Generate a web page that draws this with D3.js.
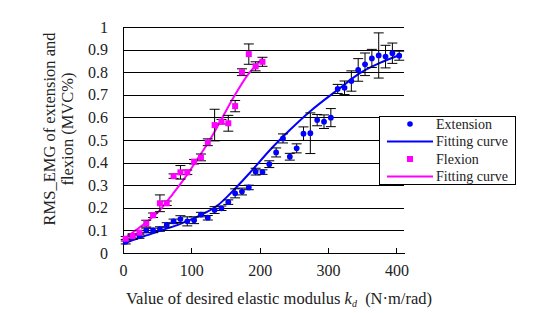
<!DOCTYPE html>
<html lang="en">
<head>
    <meta charset="UTF-8">
    <title>RMS EMG vs desired elastic modulus</title>
    <script src="https://d3js.org/d3.v7.min.js"></script>
    <style>
        body {
            margin: 0;
            background: #fff;
        }
        svg text {
            font-family: "Liberation Serif", "DejaVu Serif", serif;
        }
        .axis text {
            font-size: 16px;
            fill: #222;
        }
        .axis path,
        .axis line {
            stroke: #000;
            shape-rendering: crispEdges;
        }
        .grid line {
            stroke: #000;
            stroke-width: 1px;
            shape-rendering: crispEdges;
        }
        .err line {
            stroke: #000;
            stroke-width: 1px;
        }
        .legend text {
            font-size: 14px;
            fill: #222;
        }
        .title {
            font-size: 16.5px;
            fill: #222;
        }
    </style>
</head>
<body>
    <svg width="556" height="313"></svg>
    <script>
        // values
        var extX   = [4, 14, 24, 34, 44, 54, 64, 74, 84, 94, 104, 114, 124, 134, 144, 154, 164, 174, 184, 194,
                      204, 214, 224, 234, 244, 254, 264, 274, 284, 294, 304, 314, 324, 334, 344, 354, 364, 374, 384, 394, 404];
        var extY   = [0.05, 0.07, 0.075, 0.10, 0.10, 0.106, 0.124, 0.14, 0.15, 0.14, 0.145, 0.17, 0.156, 0.19, 0.198, 0.225, 0.264, 0.272, 0.29, 0.36,
                      0.358, 0.393, 0.445, 0.507, 0.426, 0.463, 0.528, 0.53, 0.588, 0.581, 0.599, 0.726, 0.731, 0.761, 0.81, 0.835, 0.861, 0.874, 0.869, 0.884, 0.873];
        var extErr = [0.01, 0.01, 0.01, 0.01, 0.01, 0.01, 0.01, 0.01, 0.015, 0.02, 0.015, 0.01, 0.01, 0.015, 0.01, 0.01, 0.02, 0.015, 0.01, 0.015,
                      0.01, 0.015, 0.02, 0.02, 0.015, 0.02, 0.03, 0.09, 0.025, 0.03, 0.04, 0.02, 0.03, 0.045, 0.05, 0.05, 0.04, 0.1, 0.05, 0.045, 0.02];

        var flxX   = [4, 14, 24, 34, 44, 54, 64, 74, 84, 94, 104, 114, 124, 134, 144, 154, 164, 174, 184, 194, 204];
        var flxY   = [0.063, 0.075, 0.09, 0.13, 0.167, 0.22, 0.22, 0.34, 0.357, 0.357, 0.404, 0.423, 0.49, 0.566, 0.581, 0.574, 0.65, 0.80, 0.88, 0.826, 0.846];
        var flxErr = [0.01, 0.01, 0.01, 0.015, 0.01, 0.037, 0.01, 0.01, 0.03, 0.01, 0.01, 0.015, 0.015, 0.07, 0.01, 0.035, 0.025, 0.015, 0.045, 0.02, 0.02];

        // fitted trend lines
        var extFitX = [0, 25, 54, 83, 112, 139, 156, 185, 215, 244, 273, 317, 346, 375, 405];
        var extFitY = [0.04, 0.068, 0.098, 0.128, 0.165, 0.212, 0.26, 0.353, 0.456, 0.544, 0.625, 0.729, 0.795, 0.84, 0.876];
        var flxFitX = [0, 25, 54, 73, 90, 112, 125, 140, 161, 183, 204];
        var flxFitY = [0.06, 0.115, 0.19, 0.262, 0.33, 0.43, 0.49, 0.57, 0.685, 0.79, 0.86];

        var xTicks = [0, 100, 200, 300, 400];
        var yTicks = [0, 0.1, 0.2, 0.3, 0.4, 0.5, 0.6, 0.7, 0.8, 0.9, 1];
        var yLabels = ["0", "0.1", "0.2", "0.3", "0.4", "0.5", "0.6", "0.7", "0.8", "0.9", "1"];

        var legendItems = [
            {label: "Extension", kind: "dot", color: "#0000ff"},
            {label: "Fitting curve", kind: "line", color: "#0000ff"},
            {label: "Flexion", kind: "square", color: "#ff00ff"},
            {label: "Fitting curve", kind: "line", color: "#ff00ff"}
        ];

        var plot = {left: 123, right: 404, top: 27, bottom: 253};

        var x = d3.scaleLinear().domain([0, 411]).range([plot.left, plot.right]),
            y = d3.scaleLinear().domain([0, 1]).range([plot.bottom, plot.top]);

        var svg = d3.select("svg");

        // horizontal gridlines
        svg.append("g")
            .attr("class", "grid")
          .selectAll("line")
            .data(yTicks.slice(1))
          .enter().append("line")
            .attr("x1", plot.left)
            .attr("x2", plot.right)
            .attr("y1", function(d) { return Math.round(y(d)) + 0.5; })
            .attr("y2", function(d) { return Math.round(y(d)) + 0.5; });

        // x axis, ticks pointing up into the plot
        svg.append("g")
            .attr("class", "axis")
            .attr("transform", "translate(0," + plot.bottom + ")")
            .call(d3.axisBottom(x).tickValues(xTicks).tickSize(-5).tickSizeOuter(0).tickPadding(12))
            .attr("font-family", null);

        // y axis
        svg.append("g")
            .attr("class", "axis")
            .attr("transform", "translate(" + plot.left + ",0)")
            .call(d3.axisLeft(y).tickValues(yTicks).tickSize(0).tickSizeOuter(0).tickPadding(15)
                .tickFormat(function(d, i) { return yLabels[i]; }))
            .attr("font-family", null);

        // fitting curves
        var line = d3.line()
            .x(function(d) { return x(d[0]); })
            .y(function(d) { return y(d[1]); })
            .curve(d3.curveMonotoneX);

        svg.append("path")
            .datum(d3.zip(extFitX, extFitY))
            .attr("d", line)
            .attr("fill", "none")
            .attr("stroke", "#0000ff")
            .attr("stroke-width", 2);

        svg.append("path")
            .datum(d3.zip(flxFitX, flxFitY))
            .attr("d", line)
            .attr("fill", "none")
            .attr("stroke", "#ff00ff")
            .attr("stroke-width", 2);

        // error bars
        function errorBars(xs, ys, es) {
            var g = svg.append("g").attr("class", "err")
              .selectAll("g")
                .data(d3.zip(xs, ys, es))
              .enter().append("g");
            g.append("line")
                .attr("x1", function(d) { return x(d[0]); })
                .attr("x2", function(d) { return x(d[0]); })
                .attr("y1", function(d) { return y(d[1] - d[2]); })
                .attr("y2", function(d) { return y(d[1] + d[2]); });
            [-1, 1].forEach(function(s) {
                g.append("line")
                    .attr("x1", function(d) { return x(d[0]) - 5; })
                    .attr("x2", function(d) { return x(d[0]) + 5; })
                    .attr("y1", function(d) { return y(d[1] + s * d[2]); })
                    .attr("y2", function(d) { return y(d[1] + s * d[2]); });
            });
        }
        errorBars(extX, extY, extErr);
        errorBars(flxX, flxY, flxErr);

        // points
        svg.append("g")
          .selectAll("path")
            .data(d3.zip(extX, extY))
          .enter().append("path")
            .attr("d", d3.symbol(d3.symbolCircle, 26))
            .attr("transform", function(d) { return "translate(" + x(d[0]) + "," + y(d[1]) + ")"; })
            .attr("fill", "#0000ff");

        svg.append("g")
          .selectAll("rect")
            .data(d3.zip(flxX, flxY))
          .enter().append("rect")
            .attr("x", function(d) { return x(d[0]) - 3; })
            .attr("y", function(d) { return y(d[1]) - 3; })
            .attr("width", 6)
            .attr("height", 6)
            .attr("fill", "#ff00ff");

        // axis titles
        var xt = svg.append("text")
            .attr("class", "title")
            .attr("x", 279)
            .attr("y", 304)
            .attr("text-anchor", "middle");
        xt.append("tspan").text("Value of desired elastic modulus ");
        xt.append("tspan").attr("font-style", "italic").text("k");
        xt.append("tspan").attr("font-style", "italic").attr("font-size", "10px").attr("dy", 3).text("d");
        xt.append("tspan").attr("dy", -3).text("\u00a0 (N\u00b7m/rad)");

        svg.append("text")
            .attr("class", "title")
            .attr("transform", "translate(55,129) rotate(-90)")
            .attr("text-anchor", "middle")
            .text("RMS_EMG of extension and");
        svg.append("text")
            .attr("class", "title")
            .attr("transform", "translate(73,129) rotate(-90)")
            .attr("text-anchor", "middle")
            .text("flexion (MVC%)");

        // legend
        var lg = svg.append("g").attr("class", "legend");
        lg.append("rect")
            .attr("x", 379.5)
            .attr("y", 116.5)
            .attr("width", 136)
            .attr("height", 68)
            .attr("fill", "#fff")
            .attr("stroke", "#000");
        var item = lg.selectAll("g")
            .data(legendItems)
          .enter().append("g")
            .attr("transform", function(d, i) { return "translate(0," + (124 + i * 17.5) + ")"; });
        item.filter(function(d) { return d.kind === "line"; })
          .append("line")
            .attr("x1", 387).attr("x2", 433)
            .attr("stroke", function(d) { return d.color; })
            .attr("stroke-width", 2);
        item.filter(function(d) { return d.kind === "dot"; })
          .append("circle")
            .attr("cx", 410).attr("r", 2.8)
            .attr("fill", function(d) { return d.color; });
        item.filter(function(d) { return d.kind === "square"; })
          .append("rect")
            .attr("x", 407).attr("y", -3).attr("width", 6).attr("height", 6)
            .attr("fill", function(d) { return d.color; });
        item.append("text")
            .attr("x", 436)
            .attr("dy", "0.35em")
            .text(function(d) { return d.label; });
    </script>
</body>
</html>
